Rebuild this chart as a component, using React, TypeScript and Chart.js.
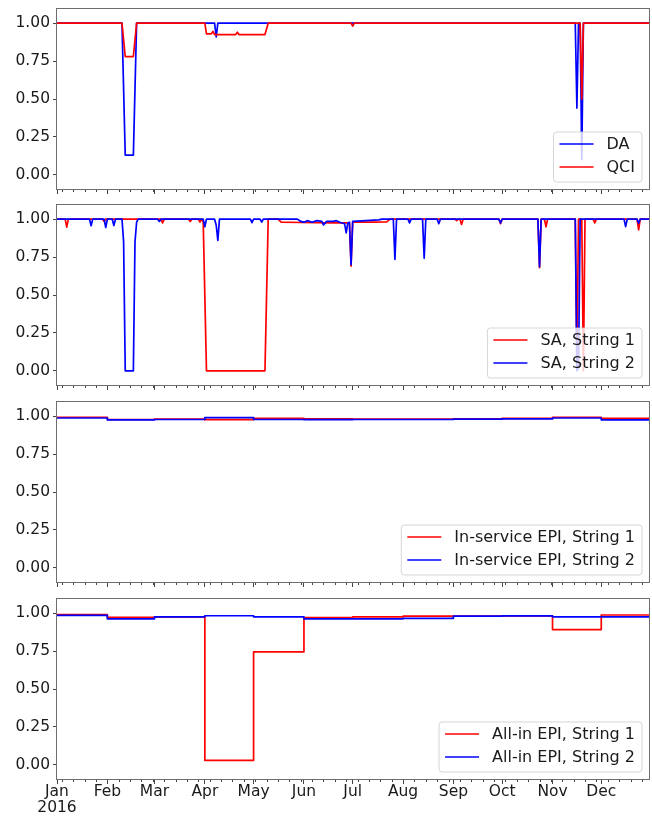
import React, { useEffect, useRef } from 'react';
import { Chart, registerables } from 'chart.js';

Chart.register(...registerables);

const FONT_FAMILY = '"DejaVu Sans", "Liberation Sans", sans-serif';
const TICK_FONT_SIZE = 15.5;
const LEGEND_FONT_SIZE = 16;
const TEXT_COLOR = '#1a1a1a';
const RED = '#ff0000';
const BLUE = '#0000ff';

// ---------- axes ----------
const yearLabel = '2016';
const monthLabels = ['Jan', 'Feb', 'Mar', 'Apr', 'May', 'Jun', 'Jul', 'Aug', 'Sep', 'Oct', 'Nov', 'Dec'];
const monthStartDays = [0, 31, 60, 91, 121, 152, 182, 213, 244, 274, 305, 335];
const lastDay = 365;
const firstMonday = 3;
const yTickValues = [0, 0.25, 0.5, 0.75, 1.0];
const yMin = -0.1;
const yMax = 1.1;

// ---------- panel 1: DA / QCI (day of year -> value) ----------
const daDays = [0, 40, 42, 47, 49, 97, 98, 99, 319, 320, 321, 322, 323, 324, 365];
const daValues = [1, 1, 0.13, 0.13, 1, 1, 0.91, 1, 1, 0.44, 1, 1, 0.1, 1, 1];
const qciDays = [0, 40, 42, 47, 49, 91, 92, 95, 96, 97, 110, 111, 112, 128, 130, 181, 182, 183, 322, 323, 324, 365];
const qciValues = [1, 1, 0.78, 0.78, 1, 1, 0.93, 0.93, 0.945, 0.925, 0.925, 0.94, 0.925, 0.925, 1, 1, 0.98, 1, 1, 0.5, 1, 1];

// ---------- panel 2: SA String 1 / String 2 ----------
const sa1Days = [0, 5, 6, 7, 28, 29, 30, 64, 65, 66, 81, 82, 83, 87, 88, 89, 90, 92, 128, 130, 136, 138, 150, 170, 180, 181, 182, 195, 203, 205, 245, 246, 247, 248, 249, 250, 272, 273, 274, 296, 297, 298, 300, 301, 302, 319, 320, 321, 323, 324, 325, 330, 331, 332, 357, 358, 359, 365];
const sa1Values = [1, 1, 0.947, 1, 1, 0.985, 1, 1, 0.975, 1, 1, 0.985, 1, 1, 0.98, 1, 0.98, 0, 0, 1, 1, 0.98, 0.978, 0.975, 0.975, 0.69, 0.98, 0.98, 0.982, 1, 1, 0.99, 1, 1, 0.965, 1, 1, 0.97, 1, 1, 0.68, 1, 1, 0.95, 1, 1, 0.05, 1, 1, 0, 1, 1, 0.975, 1, 1, 0.93, 1, 1];
const sa2Days = [0, 20, 21, 22, 29, 30, 31, 34, 35, 36, 40, 41, 42, 47, 48, 49, 50, 62, 63, 64, 90, 91, 92, 97, 98, 99, 100, 119, 120, 121, 125, 126, 127, 148, 150, 152, 154, 157, 160, 163, 164, 166, 170, 172, 174, 177, 178, 179, 180, 181, 182, 190, 198, 200, 207, 208, 209, 216, 217, 218, 225, 226, 227, 234, 235, 236, 272, 273, 274, 296, 297, 298, 319, 320, 321, 322, 349, 350, 351, 357, 358, 359, 365];
const sa2Values = [1, 1, 0.957, 1, 1, 0.945, 1, 1, 0.958, 1, 1, 0.85, 0, 0, 0.85, 0.98, 1, 1, 0.985, 1, 1, 0.95, 1, 1, 0.96, 0.86, 1, 1, 0.977, 1, 1, 0.98, 1, 1, 0.985, 0.98, 0.99, 0.98, 0.99, 0.985, 0.962, 0.985, 0.985, 0.99, 0.98, 0.97, 0.91, 0.975, 0.98, 0.7, 0.985, 0.99, 0.995, 1, 1, 0.735, 1, 1, 0.975, 1, 1, 0.742, 1, 1, 0.97, 1, 1, 0.975, 1, 1, 0.687, 1, 1, 0, 0.02, 1, 1, 0.951, 1, 1, 0.973, 1, 1];

// ---------- panel 3: In-service EPI (monthly) ----------
const inService1 = [0.993, 0.978, 0.98, 0.977, 0.985, 0.982, 0.98, 0.98, 0.983, 0.986, 0.993, 0.985];
const inService2 = [0.988, 0.975, 0.978, 0.99, 0.978, 0.977, 0.978, 0.978, 0.98, 0.982, 0.988, 0.976];

// ---------- panel 4: All-in EPI (monthly) ----------
const allIn1 = [0.99, 0.972, 0.976, 0.03, 0.745, 0.97, 0.975, 0.98, 0.98, 0.982, 0.892, 0.988];
const allIn2 = [0.986, 0.963, 0.976, 0.983, 0.976, 0.963, 0.963, 0.966, 0.98, 0.982, 0.976, 0.976];

// ---------- helpers ----------
function seriesPoints(days: number[], values: number[]) {
  return days.map((d, i) => ({ x: d, y: values[i] }));
}
function monthlyPoints(values: number[]) {
  const pts = monthStartDays.map((d, i) => ({ x: d, y: values[i] }));
  pts.push({ x: lastDay, y: values[values.length - 1] });
  return pts;
}

const PLOT_TOP = 8;
const PLOT_H = 182;

const framePlugin = {
  id: 'frameAndMinor',
  afterDatasetsDraw(chart: any) {
    const { ctx, chartArea } = chart;
    const xs = chart.scales.x;
    ctx.save();
    ctx.strokeStyle = '#444';
    ctx.lineWidth = 1;
    ctx.beginPath();
    for (let d = firstMonday; d <= lastDay; d += 7) {
      if (monthStartDays.indexOf(d) >= 0) continue;
      const px = Math.round(xs.getPixelForValue(d)) + 0.5;
      ctx.moveTo(px, chartArea.bottom);
      ctx.lineTo(px, chartArea.bottom + 2);
    }
    ctx.stroke();
    ctx.strokeStyle = '#6e6e6e';
    ctx.lineWidth = 1;
    const l = Math.round(chartArea.left) - 0.5;
    const t = Math.round(chartArea.top) + 0.5;
    const r = Math.round(chartArea.right) - 0.5;
    const b = Math.round(chartArea.bottom) - 0.5;
    ctx.strokeRect(l, t, r - l, b - t);
    ctx.restore();
  },
};

const legendPlugin = {
  id: 'innerLegend',
  afterDraw(chart: any) {
    const { ctx, chartArea } = chart;
    const items = chart.data.datasets.map((ds: any) => ({ label: ds.label, color: ds.borderColor }));
    ctx.save();
    ctx.font = `${LEGEND_FONT_SIZE}px ${FONT_FAMILY}`;
    const textW = Math.max(...items.map((it: any) => ctx.measureText(it.label).width));
    const padL = 6, handle = 34, gap = 13, padR = 7;
    const w = padL + handle + gap + textW + padR;
    const h = 50;
    const right = chartArea.right - 8;
    const bottom = chartArea.bottom - 8;
    const left = right - w;
    const top = bottom - h;
    const rad = 3;
    ctx.beginPath();
    ctx.moveTo(left + rad, top);
    ctx.lineTo(right - rad, top);
    ctx.quadraticCurveTo(right, top, right, top + rad);
    ctx.lineTo(right, bottom - rad);
    ctx.quadraticCurveTo(right, bottom, right - rad, bottom);
    ctx.lineTo(left + rad, bottom);
    ctx.quadraticCurveTo(left, bottom, left, bottom - rad);
    ctx.lineTo(left, top + rad);
    ctx.quadraticCurveTo(left, top, left + rad, top);
    ctx.closePath();
    ctx.fillStyle = 'rgba(255,255,255,0.8)';
    ctx.fill();
    ctx.strokeStyle = 'rgba(204,204,204,0.8)';
    ctx.lineWidth = 1;
    ctx.stroke();
    items.forEach((it: any, i: number) => {
      const cy = top + 12 + i * 23;
      ctx.strokeStyle = it.color;
      ctx.lineWidth = 1.7;
      ctx.beginPath();
      ctx.moveTo(left + padL, cy);
      ctx.lineTo(left + padL + handle, cy);
      ctx.stroke();
      ctx.fillStyle = TEXT_COLOR;
      ctx.textBaseline = 'middle';
      ctx.textAlign = 'left';
      ctx.fillText(it.label, left + padL + handle + gap, cy + 1);
    });
    ctx.restore();
  },
};

type SeriesDef = { label: string; color: string; points: { x: number; y: number }[]; stepped?: boolean };

function zeroPad(s: any) {
  s.paddingLeft = 0;
  s.paddingRight = 0;
  s.paddingTop = 0;
  s.paddingBottom = 0;
}

function Panel({ top, height, series, showLabels }: { top: number; height: number; series: SeriesDef[]; showLabels: boolean }) {
  const ref = useRef<HTMLCanvasElement>(null);
  useEffect(() => {
    if (!ref.current) return;
    const tickFont = { family: FONT_FAMILY, size: TICK_FONT_SIZE, lineHeight: 1.05 };
    const chart = new Chart(ref.current, {
      type: 'line',
      data: {
        datasets: series.map((s, i) => ({
          label: s.label,
          data: s.points,
          borderColor: s.color,
          backgroundColor: s.color,
          borderWidth: 1.7,
          pointRadius: 0,
          tension: 0,
          fill: false,
          stepped: s.stepped ? 'before' : false,
          borderJoinStyle: 'round',
          order: series.length - 1 - i,
        })),
      },
      options: {
        animation: false,
        responsive: false,
        devicePixelRatio: 1,
        events: [],
        layout: { padding: { top: PLOT_TOP, left: 0, right: 2, bottom: 0 } },
        plugins: { legend: { display: false }, tooltip: { enabled: false } },
        scales: {
          x: {
            type: 'linear',
            min: 0,
            max: lastDay,
            afterBuildTicks: (s: any) => {
              s.ticks = monthStartDays.map((v) => ({ value: v }));
            },
            afterFit: (s: any) => {
              s.height = height - PLOT_TOP - PLOT_H;
              zeroPad(s);
            },
            border: { display: false },
            grid: { display: true, drawOnChartArea: false, drawTicks: true, tickLength: 4, tickColor: '#444', tickWidth: 1 },
            ticks: {
              display: showLabels,
              autoSkip: false,
              maxRotation: 0,
              minRotation: 0,
              padding: 0,
              color: TEXT_COLOR,
              font: tickFont,
              callback: (_v: any, i: number) => (i === 0 ? [monthLabels[0], yearLabel] : monthLabels[i]),
            },
          },
          y: {
            type: 'linear',
            min: yMin,
            max: yMax,
            afterBuildTicks: (s: any) => {
              s.ticks = yTickValues.map((v) => ({ value: v }));
            },
            afterFit: (s: any) => {
              s.width = 57;
              zeroPad(s);
            },
            border: { display: false },
            grid: { display: true, drawOnChartArea: false, drawTicks: true, tickLength: 4, tickColor: '#444', tickWidth: 1 },
            ticks: {
              padding: 3,
              color: TEXT_COLOR,
              font: tickFont,
              callback: (v: any) => Number(v).toFixed(2),
            },
          },
        },
      } as any,
      plugins: [framePlugin, legendPlugin],
    } as any);
    return () => chart.destroy();
  }, []);
  return (
    <canvas
      ref={ref}
      width={652}
      height={height}
      style={{ position: 'absolute', left: 0, top, display: 'block', width: 652, height }}
    />
  );
}

export default function App() {
  const panels = [
    {
      top: 0,
      height: 196,
      showLabels: false,
      series: [
        { label: 'DA', color: BLUE, points: seriesPoints(daDays, daValues) },
        { label: 'QCI', color: RED, points: seriesPoints(qciDays, qciValues) },
      ],
    },
    {
      top: 196,
      height: 196,
      showLabels: false,
      series: [
        { label: 'SA, String 1', color: RED, points: seriesPoints(sa1Days, sa1Values) },
        { label: 'SA, String 2', color: BLUE, points: seriesPoints(sa2Days, sa2Values) },
      ],
    },
    {
      top: 393,
      height: 196,
      showLabels: false,
      series: [
        { label: 'In-service EPI, String 1', color: RED, points: monthlyPoints(inService1), stepped: true },
        { label: 'In-service EPI, String 2', color: BLUE, points: monthlyPoints(inService2), stepped: true },
      ],
    },
    {
      top: 590,
      height: 228,
      showLabels: true,
      series: [
        { label: 'All-in EPI, String 1', color: RED, points: monthlyPoints(allIn1), stepped: true },
        { label: 'All-in EPI, String 2', color: BLUE, points: monthlyPoints(allIn2), stepped: true },
      ],
    },
  ];
  return (
    <div style={{ position: 'absolute', left: 0, top: 0, width: 652, height: 818, background: '#ffffff', overflow: 'hidden' }}>
      {panels.map((p, i) => (
        <Panel key={i} top={p.top} height={p.height} series={p.series as SeriesDef[]} showLabels={p.showLabels} />
      ))}
    </div>
  );
}
